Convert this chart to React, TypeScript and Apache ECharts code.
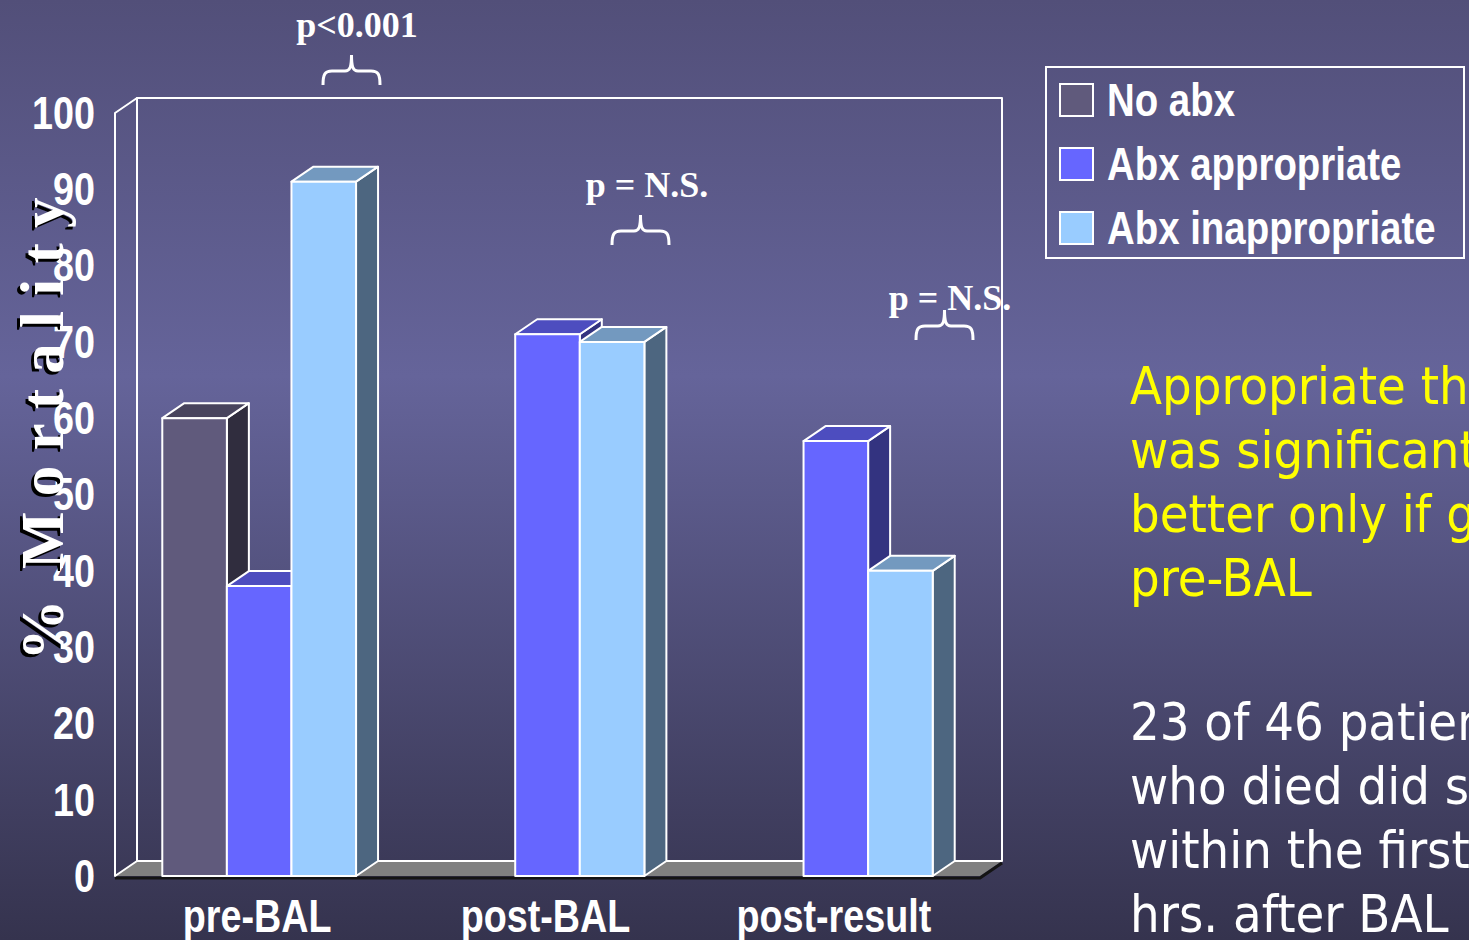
import React, { useEffect, useRef } from "react";
import * as echarts from "echarts";

// ---- data ----
const categories = ["pre-BAL", "post-BAL", "post-result"];
const seriesNames = ["No abx", "Abx appropriate", "Abx inappropriate"];
const noAbx: (number | null)[] = [60, null, null];
const abxAppropriate: (number | null)[] = [38, 71, 57];
const abxInappropriate: (number | null)[] = [91, 70, 40];
const yMin = 0;
const yMax = 100;
const yInterval = 10;
const yTickValues = [0, 10, 20, 30, 40, 50, 60, 70, 80, 90, 100];
const pLabels = ["p<0.001", "p = N.S.", "p = N.S."];
const yTitle = "%  M o r t a l i t y";
const noteYellow = ["Appropriate therapy", "was significantly", "better only if given", "pre-BAL"];
const noteWhite = ["23 of 46 patients", "who died did so", "within the first", "hrs. after BAL"];

// ---- styling ----
const SANS = "'Liberation Sans', Arial, sans-serif";
const SERIF = "'Liberation Serif', 'Times New Roman', serif";
const NOTE_FONT = "52px 'DejaVu Sans Condensed', 'DejaVu Sans', sans-serif";
const NARROW_SCALE = 0.82;
const LEGEND_SCALE = 0.835;
const faces = [
  { front: "#605a7c", top: "#48445d", side: "#302d3e" },
  { front: "#6666ff", top: "#4d4dbf", side: "#333380" },
  { front: "#99ccff", top: "#7399bf", side: "#4d6680" },
];
const DX = 22;
const DY = -15;
const EDGE = { stroke: "#ffffff", lineWidth: 2, lineJoin: "round" };

echarts.graphic.registerShape(
  "brace",
  echarts.graphic.extendPath(
    "M0 30 C0 19 2 16 9 16 L22 16 C27 16 28.5 12 28.5 0 C28.5 12 30 16 35 16 L48 16 C55 16 57 19 57 30",
    {}
  )
);

function toPoints(values: (number | null)[]) {
  const out: [number, number][] = [];
  values.forEach((v, i) => {
    if (v !== null) out.push([i, v]);
  });
  return out;
}

function makeBarRenderer(slot: number) {
  return (params: any, api: any) => {
    const cat = api.value(0);
    const v = api.value(1);
    const base = api.coord([cat, 0]);
    const topPt = api.coord([cat, v]);
    const band = api.size([1, 0])[0];
    const w = band * 0.224;
    const x0 = base[0] - 1.5 * w + slot * w;
    const x1 = x0 + w;
    const y0 = base[1];
    const y1 = topPt[1];
    const c = faces[slot];
    return {
      type: "group",
      children: [
        {
          type: "polygon",
          shape: { points: [[x1, y0], [x1 + DX, y0 + DY], [x1 + DX, y1 + DY], [x1, y1]] },
          style: { fill: c.side, ...EDGE },
        },
        {
          type: "polygon",
          shape: { points: [[x0, y1], [x0 + DX, y1 + DY], [x1 + DX, y1 + DY], [x1, y1]] },
          style: { fill: c.top, ...EDGE },
        },
        {
          type: "rect",
          shape: { x: x0, y: y1, width: w, height: y0 - y1 },
          style: { fill: c.front, ...EDGE },
        },
      ],
    };
  };
}

// 3D frame (back wall, side wall, floor) plus condensed tick labels placed on the axis scales
function renderFrame(params: any, api: any) {
  const cs = params.coordSys;
  const x = cs.x;
  const y = cs.y;
  const w = cs.width;
  const h = cs.height;
  const b = y + h;
  const children: any[] = [
    {
      type: "polygon",
      shape: { points: [[x, b], [x + DX, b + DY], [x + w + DX, b + DY], [x + w, b]] },
      style: { fill: "#808080" },
    },
    {
      type: "polyline",
      shape: { points: [[x, b + 2], [x + w, b + 2], [x + w + DX, b + DY + 2]] },
      style: { stroke: "#141414", lineWidth: 3, fill: null },
    },
    {
      type: "rect",
      shape: { x: x + DX, y: y + DY, width: w, height: h },
      style: { fill: null, ...EDGE },
    },
    {
      type: "polygon",
      shape: { points: [[x, y], [x + DX, y + DY], [x + DX, b + DY], [x, b]] },
      style: { fill: null, ...EDGE },
    },
  ];
  yTickValues.forEach((t) => {
    const p = api.coord([0, t]);
    children.push({
      type: "text",
      x: x - 20,
      y: p[1],
      scaleX: NARROW_SCALE,
      style: {
        text: String(t),
        fill: "#ffffff",
        font: `bold 46px ${SANS}`,
        align: "right",
        verticalAlign: "middle",
      },
    });
  });
  categories.forEach((c, i) => {
    const p = api.coord([i, 0]);
    children.push({
      type: "text",
      x: p[0] - 2,
      y: b + 40,
      scaleX: NARROW_SCALE,
      style: {
        text: c,
        fill: "#ffffff",
        font: `bold 46px ${SANS}`,
        align: "center",
        verticalAlign: "middle",
      },
    });
  });
  return { type: "group", children };
}

export default function App() {
  const ref = useRef<HTMLDivElement>(null);

  useEffect(() => {
    if (!ref.current) return;
    const chart = echarts.init(ref.current, null, { renderer: "svg" });
    const groups = [noAbx, abxAppropriate, abxInappropriate];

    const braces = [
      { x: 323, y: 55 },
      { x: 612, y: 215 },
      { x: 916, y: 310 },
    ];
    const pPos = [
      { x: 357, y: 25 },
      { x: 647, y: 185 },
      { x: 950, y: 298 },
    ];

    const graphics: any[] = [];
    braces.forEach((p) => {
      graphics.push({
        type: "brace",
        x: p.x,
        y: p.y,
        style: { fill: null, stroke: "#ffffff", lineWidth: 3 },
        z: 10,
      });
    });
    pLabels.forEach((t, i) => {
      graphics.push({
        type: "text",
        x: pPos[i].x,
        y: pPos[i].y,
        style: {
          text: t,
          fill: "#ffffff",
          font: `bold 36px ${SERIF}`,
          align: "center",
          verticalAlign: "middle",
        },
        z: 10,
      });
    });

    // vertical axis title with a hard drop shadow
    [
      { dx: -3, dy: 3, fill: "#000000" },
      { dx: 0, dy: 0, fill: "#ffffff" },
    ].forEach((s) => {
      graphics.push({
        type: "text",
        x: 42 + s.dx,
        y: 429 + s.dy,
        rotation: Math.PI / 2,
        silent: true,
        style: {
          text: yTitle,
          fill: s.fill,
          font: `bold 61px ${SERIF}`,
          align: "center",
          verticalAlign: "middle",
        },
        z: 10,
      });
    });

    // legend box
    graphics.push({
      type: "rect",
      shape: { x: 1046, y: 67, width: 418, height: 191 },
      style: { fill: null, stroke: "#ffffff", lineWidth: 2 },
    });
    seriesNames.forEach((n, i) => {
      const cy = 100 + i * 64;
      graphics.push({
        type: "rect",
        shape: { x: 1060, y: cy - 16, width: 33, height: 32 },
        style: { fill: faces[i].front, stroke: "#ffffff", lineWidth: 2 },
      });
      graphics.push({
        type: "text",
        x: 1107,
        y: cy,
        scaleX: LEGEND_SCALE,
        style: {
          text: n,
          fill: "#ffffff",
          font: `bold 46px ${SANS}`,
          align: "left",
          verticalAlign: "middle",
        },
      });
    });

    noteYellow.forEach((t, i) => {
      graphics.push({
        type: "text",
        x: 1130,
        y: 386 + i * 64,
        style: { text: t, fill: "#ffff00", font: NOTE_FONT, align: "left", verticalAlign: "middle" },
      });
    });
    noteWhite.forEach((t, i) => {
      graphics.push({
        type: "text",
        x: 1130,
        y: 722 + i * 64,
        style: { text: t, fill: "#ffffff", font: NOTE_FONT, align: "left", verticalAlign: "middle" },
      });
    });

    chart.setOption({
      animation: false,
      backgroundColor: {
        type: "linear",
        x: 0,
        y: 0,
        x2: 0,
        y2: 1,
        colorStops: [
          { offset: 0, color: "#524f79" },
          { offset: 0.4, color: "#65649a" },
          { offset: 1, color: "#35334e" },
        ],
      },
      grid: { left: 115, right: 489, top: 113, bottom: 64 },
      xAxis: {
        type: "category",
        data: categories,
        axisLine: { show: false },
        axisTick: { show: false },
        axisLabel: { show: false },
        splitLine: { show: false },
      },
      yAxis: {
        type: "value",
        min: yMin,
        max: yMax,
        interval: yInterval,
        axisLine: { show: false },
        axisTick: { show: false },
        splitLine: { show: false },
        axisLabel: { show: false },
      },
      series: [
        {
          type: "custom",
          name: "frame",
          silent: true,
          z: 1,
          renderItem: renderFrame,
          data: [[0, 0]],
        },
        ...groups.map((vals, i) => ({
          type: "custom",
          name: seriesNames[i],
          z: 2,
          itemStyle: { color: faces[i].front },
          renderItem: makeBarRenderer(i),
          encode: { x: 0, y: 1 },
          data: toPoints(vals),
        })),
      ],
      graphic: graphics,
    });

    return () => chart.dispose();
  }, []);

  return (
    <div
      ref={ref}
      style={{ position: "fixed", left: 0, top: 0, width: 1469, height: 940 }}
    />
  );
}
